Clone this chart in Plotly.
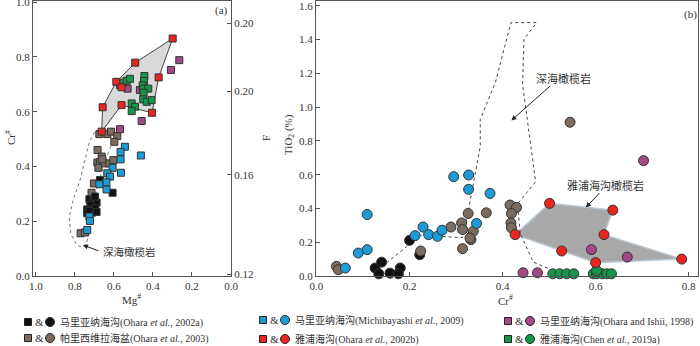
import plotly.graph_objects as go

W, H = 700, 346

# ---------------- Panel (a): Mg# vs Cr# (squares) ----------------
a_black_mg = [0.672, 0.607, 0.726, 0.706, 0.689, 0.721, 0.696, 0.737, 0.713, 0.697, 0.737, 0.689, 0.726]
a_black_cr = [0.350, 0.304, 0.280, 0.277, 0.268, 0.259, 0.247, 0.243, 0.231, 0.290, 0.229, 0.234, 0.238]

a_brown_mg = [0.675, 0.634, 0.615, 0.583, 0.598, 0.684, 0.663, 0.685, 0.672, 0.651, 0.680, 0.660, 0.624, 0.603, 0.703, 0.715, 0.771, 0.749]
a_brown_cr = [0.518, 0.518, 0.527, 0.511, 0.490, 0.460, 0.436, 0.414, 0.416, 0.411, 0.395, 0.426, 0.411, 0.423, 0.338, 0.304, 0.156, 0.159]

a_blue_mg = [0.544, 0.566, 0.566, 0.564, 0.462, 0.607, 0.634, 0.620, 0.639, 0.675, 0.638, 0.726, 0.723, 0.737]
a_blue_cr = [0.472, 0.453, 0.426, 0.377, 0.440, 0.395, 0.375, 0.363, 0.342, 0.335, 0.316, 0.217, 0.201, 0.168]

a_purple_mg = [0.265, 0.308, 0.530, 0.467, 0.569, 0.569, 0.458]
a_purple_cr = [0.788, 0.752, 0.684, 0.679, 0.697, 0.536, 0.566]

a_green_mg = [0.552, 0.535, 0.518, 0.444, 0.446, 0.453, 0.450, 0.424, 0.448, 0.450, 0.432, 0.407, 0.509, 0.492, 0.509]
a_green_cr = [0.706, 0.713, 0.720, 0.730, 0.712, 0.696, 0.684, 0.684, 0.669, 0.645, 0.636, 0.642, 0.630, 0.618, 0.602]

# red points listed in hull order (field outline)
a_red_mg = [0.299, 0.491, 0.588, 0.658, 0.663, 0.561, 0.405, 0.371, 0.561]
a_red_cr = [0.867, 0.779, 0.709, 0.616, 0.527, 0.624, 0.596, 0.725, 0.689]
a_red_hull = [0, 1, 2, 3, 4, 5, 6, 7, 0]

# abyssal peridotite field (dotted outline)
a_field_mg = [0.672, 0.697, 0.726, 0.749, 0.774, 0.809, 0.829, 0.822, 0.791, 0.766, 0.744, 0.726, 0.715, 0.689, 0.655, 0.621, 0.595, 0.621, 0.672]
a_field_cr = [0.535, 0.527, 0.490, 0.423, 0.350, 0.277, 0.217, 0.156, 0.113, 0.105, 0.113, 0.156, 0.229, 0.314, 0.399, 0.466, 0.509, 0.530, 0.535]

# F axis (right of panel a): tick labels and the Cr# level where each sits
f_tick_text = ["0.12", "0.16", "0.20", "0.20"]
f_tick_cr = [0.007, 0.369, 0.675, 0.923]

# ---------------- Panel (b): Cr# vs TiO2 (circles) ----------------
b_black_cr = [0.126, 0.140, 0.134, 0.158, 0.180, 0.176, 0.200, 0.222]
b_black_ti = [0.047, 0.082, 0.013, 0.017, 0.047, 0.013, 0.211, 0.126]

b_brown_cr = [0.043, 0.047, 0.224, 0.289, 0.312, 0.326, 0.314, 0.332, 0.337, 0.314, 0.330, 0.365, 0.416, 0.430, 0.419, 0.418, 0.419, 0.545]
b_brown_ti = [0.057, 0.037, 0.148, 0.290, 0.314, 0.370, 0.162, 0.215, 0.265, 0.275, 0.225, 0.374, 0.420, 0.406, 0.370, 0.314, 0.285, 0.910]

b_blue_cr = [0.062, 0.090, 0.109, 0.109, 0.212, 0.229, 0.241, 0.260, 0.270, 0.295, 0.327, 0.327, 0.344, 0.373]
b_blue_ti = [0.047, 0.136, 0.156, 0.364, 0.239, 0.290, 0.245, 0.235, 0.271, 0.588, 0.598, 0.513, 0.311, 0.489]

b_purple_cr = [0.444, 0.475, 0.591, 0.668, 0.703]
b_purple_ti = [0.019, 0.019, 0.156, 0.112, 0.683]

b_green_cr = [0.508, 0.523, 0.538, 0.553, 0.595, 0.602, 0.614, 0.624, 0.634, 0.602]
b_green_ti = [0.013, 0.013, 0.013, 0.013, 0.013, 0.013, 0.013, 0.013, 0.013, 0.032]

# red points, hull order
b_red_cr = [0.427, 0.501, 0.637, 0.618, 0.785, 0.600, 0.527]
b_red_ti = [0.245, 0.430, 0.390, 0.245, 0.100, 0.079, 0.148]
b_red_hull = [0, 1, 2, 3, 4, 5, 0]

# abyssal peridotite field (dotted outline, open)
b_field_cr = [0.124, 0.139, 0.224, 0.314, 0.328, 0.352, 0.352, 0.385, 0.418, 0.473, 0.446, 0.443, 0.471, 0.432, 0.438, 0.466, 0.500]
b_field_ti = [0.000, 0.052, 0.241, 0.227, 0.410, 0.767, 0.926, 1.150, 1.500, 1.500, 1.402, 1.134, 0.558, 0.426, 0.251, 0.082, 0.043]

# ---------------- legend ----------------
legend_labels = [
    "马里亚纳海沟(Ohara <i>et al.</i>, 2002a)",
    "帕里西维拉海盆(Ohara <i>et al.</i>, 2003)",
    "马里亚纳海沟(Michibayashi <i>et al.</i>, 2009)",
    "雅浦海沟(Ohara <i>et al.</i>, 2002b)",
    "马里亚纳海沟(Ohara and Ishii, 1998)",
    "雅浦海沟(Chen <i>et al.</i>, 2019a)",
]

C_BLACK = "#111111"
C_BROWN = "#7c6b5f"
C_BLUE = "#1c9bd7"
C_RED = "#e8251f"
C_PURPLE = "#a34a86"
C_GREEN = "#16964a"
legend_colors = [C_BLACK, C_BROWN, C_BLUE, C_RED, C_PURPLE, C_GREEN]

FONT = "Liberation Serif, Noto Sans CJK SC, serif"
AX = "#555555"
TXT = "#333333"

fig = go.Figure()

# panel (a) red field
fig.add_trace(go.Scatter(
    x=[a_red_mg[i] for i in a_red_hull], y=[a_red_cr[i] for i in a_red_hull],
    mode="lines", fill="toself", fillcolor="#d9d9d9",
    line=dict(color="#444444", width=1), hoverinfo="skip", xaxis="x", yaxis="y"))
fig.add_trace(go.Scatter(
    x=a_field_mg, y=a_field_cr, mode="lines",
    line=dict(color="#777777", width=1, dash="dot"), hoverinfo="skip", xaxis="x", yaxis="y"))

sq = dict(symbol="square", size=7, line=dict(color="#333333", width=1))
for xs, ys, c in [(a_brown_mg, a_brown_cr, C_BROWN), (a_black_mg, a_black_cr, C_BLACK),
                  (a_blue_mg, a_blue_cr, C_BLUE), (a_purple_mg, a_purple_cr, C_PURPLE),
                  (a_green_mg, a_green_cr, C_GREEN), (a_red_mg, a_red_cr, C_RED)]:
    fig.add_trace(go.Scatter(x=xs, y=ys, mode="markers", marker=dict(color=c, **sq),
                             xaxis="x", yaxis="y", cliponaxis=False))

# invisible trace for F axis
fig.add_trace(go.Scatter(x=[0.5], y=[0.5], mode="markers", marker=dict(opacity=0),
                         xaxis="x", yaxis="y3", hoverinfo="skip"))

# panel (b)
fig.add_trace(go.Scatter(
    x=[b_red_cr[i] for i in b_red_hull], y=[b_red_ti[i] for i in b_red_hull],
    mode="lines", fill="toself", fillcolor="#a8a8a8",
    line=dict(color="#b9c9d6", width=1.5), hoverinfo="skip", xaxis="x2", yaxis="y2"))
fig.add_trace(go.Scatter(
    x=b_field_cr, y=b_field_ti, mode="lines",
    line=dict(color="#444444", width=1, dash="dot"), hoverinfo="skip", xaxis="x2", yaxis="y2"))

ci = dict(symbol="circle", size=10, line=dict(color="#333333", width=1))
for xs, ys, c in [(b_black_cr, b_black_ti, C_BLACK), (b_brown_cr, b_brown_ti, C_BROWN),
                  (b_blue_cr, b_blue_ti, C_BLUE), (b_purple_cr, b_purple_ti, C_PURPLE),
                  (b_green_cr, b_green_ti, C_GREEN), (b_red_cr, b_red_ti, C_RED)]:
    fig.add_trace(go.Scatter(x=xs, y=ys, mode="markers", marker=dict(color=c, **ci),
                             xaxis="x2", yaxis="y2", cliponaxis=False))

tickfont = dict(family=FONT, size=11, color=TXT)
axis_common = dict(showline=True, linecolor=AX, linewidth=1, mirror=True, ticks="inside",
                   ticklen=4, tickcolor=AX, showgrid=False, zeroline=False, tickfont=tickfont,
                   automargin=False, ticklabeloverflow="allow")

ydom = [(H - 276) / H, (H - 1) / H]
fig.update_layout(
    width=W, height=H, margin=dict(l=0, r=0, t=0, b=0, pad=0, autoexpand=False),
    paper_bgcolor="white", plot_bgcolor="white", showlegend=False,
    xaxis=dict(domain=[33 / W, 231 / W], range=[1.015, 0], tickvals=[1.0, 0.8, 0.6, 0.4, 0.2, 0.0],
               tickformat=".1f", anchor="y", **axis_common),
    yaxis=dict(domain=ydom, range=[0, 1.004], tickvals=[0, 0.2, 0.4, 0.6, 0.8, 1.0],
               tickformat=".1f", anchor="x", **axis_common),
    yaxis3=dict(overlaying="y", side="right", anchor="x", range=[0, 1.004],
                tickvals=f_tick_cr, ticktext=f_tick_text, showline=True, linecolor=AX,
                ticks="inside", ticklen=4, tickcolor=AX, showgrid=False, zeroline=False,
                tickfont=tickfont, automargin=False, ticklabeloverflow="allow"),
    xaxis2=dict(domain=[316 / W, 698 / W], range=[-0.001, 0.82], tickvals=[0, 0.2, 0.4, 0.6, 0.8],
                tickformat=".1f", anchor="y2", **axis_common),
    yaxis2=dict(domain=ydom, range=[0, 1.628], dtick=0.2, tickformat=".1f", anchor="x2",
                **axis_common),
)

ann = []
def px(xp, yp):
    return xp / W, 1 - yp / H

def note(text, x0, y0, size=11, angle=0, xanchor="center"):
    xx, yy = px(x0, y0)
    ann.append(dict(text=text, x=xx, y=yy, xref="paper", yref="paper", showarrow=False,
                    xanchor=xanchor, yanchor="middle", textangle=angle,
                    font=dict(family=FONT, size=size, color=TXT)))

# axis titles
note("Cr<sup>#</sup>", 10, 138, angle=-90)
note("F", 266, 138, angle=-90)
note("TiO<sub>2</sub> (%)", 289, 135, angle=-90)
note("Mg<sup>#</sup>", 131, 299)
note("Cr<sup>#</sup>", 505, 300)
# panel labels
note("(a)", 222, 11)
note("(b)", 690, 14)

# field labels
ann.append(dict(text="深海橄榄岩", x=0.667, y=0.088, xref="x", yref="y", xanchor="left",
                yanchor="middle", showarrow=False, font=dict(family=FONT, size=10.5, color=TXT)))
ann.append(dict(x=0.759, y=0.113, ax=0.672, ay=0.090, xref="x", yref="y", axref="x", ayref="y",
                text="", showarrow=True, arrowhead=2, arrowsize=1, arrowwidth=1, arrowcolor="#222"))
ann.append(dict(text="深海橄榄岩", x=0.531, y=1.17, xref="x2", yref="y2", showarrow=False,
                xanchor="center", yanchor="middle", font=dict(family=FONT, size=11, color=TXT)))
ann.append(dict(x=0.419, y=0.921, ax=0.506, ay=1.134, xref="x2", yref="y2", axref="x2", ayref="y2",
                text="", showarrow=True, arrowhead=2, arrowsize=1, arrowwidth=1, arrowcolor="#222"))
ann.append(dict(text="雅浦海沟橄榄岩", x=0.621, y=0.534, xref="x2", yref="y2", showarrow=False,
                xanchor="center", yanchor="middle", font=dict(family=FONT, size=11, color=TXT)))
ann.append(dict(x=0.579, y=0.406, ax=0.611, ay=0.499, xref="x2", yref="y2", axref="x2", ayref="y2",
                text="", showarrow=True, arrowhead=2, arrowsize=1, arrowwidth=1, arrowcolor="#222"))

# legend (symbols as shapes, text as annotations)
leg_pos = [(28, 322), (28, 338), (263, 320), (263, 339), (508, 321), (508, 339)]
shapes = []
for lab, col, (lx, ly) in zip(legend_labels, legend_colors, leg_pos):
    x0, y0 = px(lx - 3.5, ly - 3.5)
    x1, y1 = px(lx + 3.5, ly + 3.5)
    shapes.append(dict(type="rect", xref="paper", yref="paper", x0=x0, x1=x1, y0=y1, y1=y0,
                       fillcolor=col, line=dict(color="#222222", width=1)))
    note("&", lx + 11, ly, size=11)
    x0, y0 = px(lx + 17.5, ly - 4.5)
    x1, y1 = px(lx + 26.5, ly + 4.5)
    shapes.append(dict(type="circle", xref="paper", yref="paper", x0=x0, x1=x1, y0=y1, y1=y0,
                       fillcolor=col, line=dict(color="#222222", width=1)))
    note(lab, lx + 30, ly, size=10, xanchor="left")

fig.update_layout(annotations=ann, shapes=shapes)
fig.write_html("out.html", config={"displayModeBar": False},
               post_script="document.body.style.margin='0px';")
